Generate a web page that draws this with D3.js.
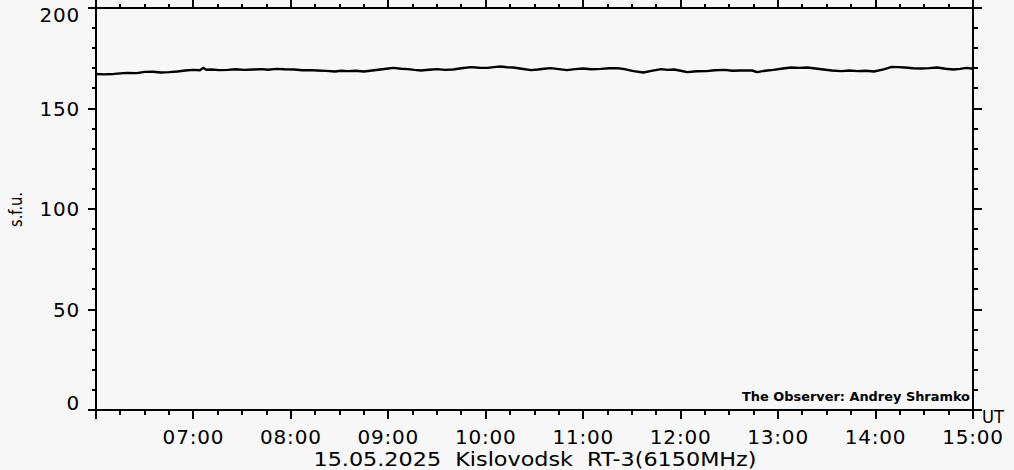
<!DOCTYPE html>
<html><head><meta charset="utf-8">
<script src="https://cdn.jsdelivr.net/npm/d3@7"></script>
<style>
html,body{margin:0;padding:0;background:#f7f7f7;}
svg{display:block;}
text{font-family:"DejaVu Sans",sans-serif;fill:#000;}
</style></head>
<body>
<svg id="c" width="1014" height="470"></svg>
<script>
const dateStr = "2025-05-15";
const xTickLabels = ["07:00","08:00","09:00","10:00","11:00","12:00","13:00","14:00","15:00"];
const yTickLabels = [0,50,100,150,200];
const titleText = "15.05.2025  Kislovodsk  RT-3(6150MHz)";
const yLabel = "s.f.u.";
const xUnit = "UT";
const observer = "The Observer: Andrey Shramko";
const times = ["06:00","06:05","06:11","06:15","06:19","06:25","06:30","06:35","06:40","06:45","06:50","06:55",
"07:00","07:04","07:06","07:08","07:11","07:16","07:21","07:26","07:31","07:37","07:42","07:46","07:51","07:56",
"08:02","08:07","08:12","08:16","08:22","08:27","08:31","08:35","08:40","08:45","08:50","08:55",
"09:00","09:03","09:08","09:12","09:16","09:20","09:25","09:30","09:35","09:40","09:45","09:51","09:56",
"10:01","10:05","10:09","10:13","10:17","10:22","10:28","10:32","10:36","10:40","10:45","10:50","10:55",
"11:00","11:05","11:11","11:16","11:21","11:26","11:31","11:37","11:42","11:48","11:52","11:56",
"12:00","12:04","12:10","12:16","12:21","12:27","12:32","12:37","12:44","12:47","12:52","12:57",
"13:03","13:08","13:13","13:18","13:23","13:28","13:33","13:39","13:44","13:49","13:54","13:59",
"14:05","14:10","14:14","14:18","14:23","14:28","14:33","14:38","14:43","14:48","14:52","14:56","15:00"];
const flux = [167.2,167.0,167.2,167.5,167.7,167.6,168.2,168.3,167.9,168.1,168.4,168.9,
169.2,169.0,170.2,169.3,169.4,169.1,169.2,169.5,169.2,169.4,169.6,169.3,169.7,169.5,
169.4,169.0,169.1,168.9,168.7,168.4,168.8,168.6,168.8,168.4,168.9,169.4,
169.9,170.2,169.8,169.6,169.2,168.9,169.3,169.6,169.2,169.4,170.0,170.6,170.3,
170.2,170.6,170.9,170.5,170.4,169.8,169.1,169.4,169.8,170.1,169.6,169.1,169.6,
169.9,169.5,169.7,170.0,170.1,169.5,168.6,167.9,168.7,169.6,169.2,169.4,
168.8,168.1,168.5,168.6,169.0,169.2,168.8,168.9,168.9,168.1,168.8,169.2,
169.9,170.4,170.2,170.4,169.9,169.4,168.9,168.6,168.9,168.6,168.8,168.4,
169.5,170.7,170.6,170.4,170.0,169.9,170.1,170.4,169.8,169.4,169.7,170.2,169.8];

const parse = s => new Date(dateStr + "T" + s + ":00Z");
const data = times.map((t,i)=>({t:parse(t), v:flux[i]}));

const svg = d3.select("#c");
const L=96, R=973, T=8, B=410;
const x = d3.scaleUtc().domain([parse("06:00"), parse("15:00")]).range([L,R]);
const y = d3.scaleLinear().domain([0,200]).range([B,T]);

const g = svg.append("g").attr("shape-rendering","crispEdges");
const black = "#000";

g.append("rect").attr("x",L).attr("y",T).attr("width",R-L).attr("height",B-T)
  .attr("fill","none").attr("stroke",black).attr("stroke-width",2);

const minorX = d3.utcMinute.every(15).range(parse("06:00"), d3.utcMinute.offset(parse("15:00"),1));
const majorX = xTickLabels.map(parse);
const minorY = d3.range(0,201,10);

minorX.forEach(d=>{
  const isMajor = d.getUTCMinutes()===0;
  g.append("line").attr("x1",x(d)).attr("x2",x(d)).attr("y1",B).attr("y2",B+(isMajor?9:5)).attr("stroke",black).attr("stroke-width",2);
  g.append("line").attr("x1",x(d)).attr("x2",x(d)).attr("y1",T).attr("y2",T-(isMajor?9:4)).attr("stroke",black).attr("stroke-width",2);
});
minorY.forEach(v=>{
  const isMajor = v%50===0;
  g.append("line").attr("x1",L).attr("x2",L-(isMajor?8:4)).attr("y1",y(v)).attr("y2",y(v)).attr("stroke",black).attr("stroke-width",2);
  g.append("line").attr("x1",R).attr("x2",R+(isMajor?9:5)).attr("y1",y(v)).attr("y2",y(v)).attr("stroke",black).attr("stroke-width",2);
});

yTickLabels.forEach(v=>{
  let base = y(v)+7.3;
  base = Math.max(base, 22);
  base = Math.min(base, 410);
  svg.append("text").attr("x",80).attr("y",base).attr("text-anchor","end")
    .attr("font-size",20).attr("letter-spacing",0.8).text(v);
});
majorX.forEach((d,i)=>{
  svg.append("text").attr("x",x(d)).attr("y",444).attr("text-anchor","middle")
    .attr("font-size",20).attr("letter-spacing",0.8).text(xTickLabels[i]);
});

const line = d3.line().x(d=>x(d.t)).y(d=>y(d.v));
svg.append("path").datum(data).attr("d",line).attr("fill","none")
  .attr("stroke",black).attr("stroke-width",2.4).attr("stroke-linejoin","round");

svg.append("text").attr("x",535).attr("y",466).attr("text-anchor","middle")
  .attr("font-size",19).attr("textLength",443).attr("lengthAdjust","spacingAndGlyphs")
  .attr("xml:space","preserve").style("white-space","pre").text(titleText);

svg.append("text").attr("transform","translate(22,209.5) rotate(-90)")
  .attr("text-anchor","middle").attr("font-size",17).attr("textLength",35)
  .attr("lengthAdjust","spacingAndGlyphs").text(yLabel);

svg.append("text").attr("x",982).attr("y",423).attr("font-size",18)
  .attr("textLength",22).attr("lengthAdjust","spacingAndGlyphs").text(xUnit);

svg.append("text").attr("x",742).attr("y",401).attr("font-size",12).attr("font-weight","bold")
  .attr("textLength",228).attr("lengthAdjust","spacingAndGlyphs").text(observer);
</script>
</body></html>
